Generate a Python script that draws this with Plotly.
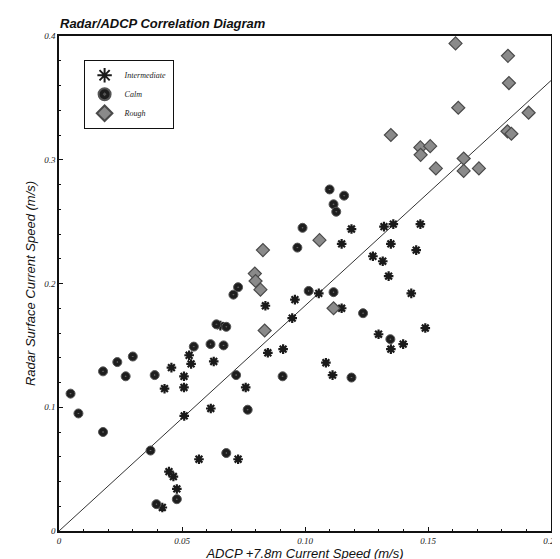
import plotly.graph_objects as go

# Data
calm_x = [0.0047, 0.0079, 0.0179, 0.0179, 0.0237, 0.0271, 0.030, 0.0372, 0.0389, 0.0396,
          0.0479, 0.0548, 0.0616, 0.064, 0.0669, 0.068, 0.068, 0.0709, 0.0728, 0.072,
          0.0767, 0.0909, 0.0969, 0.099, 0.110, 0.1159, 0.1116, 0.1127, 0.1015, 0.1116,
          0.1236, 0.1347, 0.1189]
calm_y = [0.111, 0.095, 0.129, 0.080, 0.1365, 0.125, 0.141, 0.065, 0.126, 0.0217,
          0.0257, 0.149, 0.151, 0.167, 0.150, 0.165, 0.063, 0.191, 0.197, 0.126,
          0.098, 0.125, 0.229, 0.245, 0.276, 0.271, 0.264, 0.258, 0.194, 0.193,
          0.176, 0.155, 0.124]

int_x = [0.0429, 0.0457, 0.0447, 0.0465, 0.0479, 0.042, 0.0508, 0.0508, 0.0529, 0.0537,
         0.0509, 0.0569, 0.0617, 0.0629, 0.0656, 0.0728, 0.0759, 0.0849, 0.0839, 0.0911,
         0.0948, 0.0959, 0.1056, 0.1149, 0.1189, 0.1149, 0.1276, 0.1316, 0.1321, 0.1359,
         0.1349, 0.1469, 0.1452, 0.134, 0.1432, 0.1489, 0.1299, 0.1349, 0.1399, 0.1085,
         0.1112]
int_y = [0.115, 0.132, 0.048, 0.044, 0.034, 0.019, 0.125, 0.116, 0.142, 0.135,
         0.093, 0.058, 0.099, 0.137, 0.166, 0.058, 0.116, 0.144, 0.182, 0.147,
         0.172, 0.187, 0.192, 0.180, 0.244, 0.232, 0.222, 0.218, 0.246, 0.248,
         0.232, 0.248, 0.227, 0.206, 0.192, 0.164, 0.159, 0.147, 0.151, 0.136,
         0.126]

rough_x = [0.0829, 0.0796, 0.0799, 0.0819, 0.0836, 0.1612, 0.1825, 0.1829, 0.1623, 0.1909,
           0.1823, 0.1839, 0.1349, 0.1469, 0.1509, 0.147, 0.1532, 0.1645, 0.1645, 0.1707,
           0.1059, 0.1116]
rough_y = [0.227, 0.208, 0.202, 0.195, 0.162, 0.394, 0.384, 0.362, 0.342, 0.338,
           0.323, 0.321, 0.320, 0.310, 0.311, 0.304, 0.293, 0.301, 0.291, 0.293,
           0.235, 0.180]

fit_x = [0.0, 0.2]
fit_y = [0.0, 0.364]

x_tickvals = [0, 0.05, 0.10, 0.15, 0.20]
x_ticktext = ["0", "0.05", "0.10", "0.15", "0.20"]
y_tickvals = [0, 0.1, 0.2, 0.3, 0.4]
y_ticktext = ["0", "0.1", "0.2", "0.3", "0.4"]

fig = go.Figure()

fig.add_trace(go.Scatter(x=fit_x, y=fit_y, mode="lines",
                         line=dict(color="#333333", width=1),
                         showlegend=False, hoverinfo="skip"))

fig.add_trace(go.Scatter(x=int_x, y=int_y, mode="markers", name="Intermediate",
                         marker=dict(symbol="asterisk-open", size=8, color="#1a1a1a",
                                     line=dict(color="#1a1a1a", width=2.2))))
fig.add_trace(go.Scatter(x=calm_x, y=calm_y, mode="markers", name="Calm",
                         marker=dict(symbol="circle-dot", size=9, color="#1e1e1e",
                                     line=dict(color="#555555", width=1))))
fig.add_trace(go.Scatter(x=rough_x, y=rough_y, mode="markers", name="Rough",
                         marker=dict(symbol="diamond", size=10, color="#8a8a8a",
                                     line=dict(color="#4a4a4a", width=1.2))))

tickfont = dict(family="Liberation Serif", size=9, color="#222", style="italic")
titlefont = dict(family="Liberation Sans", size=13, color="#111", style="italic")

fig.update_layout(
    width=560, height=559,
    margin=dict(l=51, r=9, t=28, b=33),
    paper_bgcolor="white", plot_bgcolor="white",
    title=dict(text="<b><i>Radar/ADCP Correlation Diagram</i></b>",
               x=52 / 560, xanchor="left", y=1 - 15 / 559, yanchor="middle",
               font=dict(family="Liberation Sans", size=13, color="#111")),
    legend=dict(x=0.05, y=0.952, xanchor="left", yanchor="top",
                bgcolor="white", bordercolor="#111", borderwidth=1,
                font=dict(family="Liberation Serif", size=8, color="#222", style="italic"),
                itemsizing="constant", tracegroupgap=0, itemwidth=30),
    xaxis=dict(range=[0, 0.2], tickvals=x_tickvals, ticktext=x_ticktext,
               tickfont=tickfont, showgrid=False, zeroline=False,
               showline=True, linecolor="#111", linewidth=1.5, mirror=True,
               ticks="inside", ticklen=4, tickcolor="#111",
               minor=dict(dtick=0.01, ticks="inside", ticklen=2, tickcolor="#111"),
               title=dict(text="ADCP +7.8m Current Speed (m/s)", font=titlefont, standoff=3)),
    yaxis=dict(range=[0, 0.4], tickvals=y_tickvals, ticktext=y_ticktext,
               tickfont=tickfont, showgrid=False, zeroline=False,
               showline=True, linecolor="#111", linewidth=1.5, mirror=True,
               ticks="inside", ticklen=4, tickcolor="#111",
               minor=dict(dtick=0.02, ticks="inside", ticklen=2, tickcolor="#111"),
               title=dict(text="Radar Surface Current Speed (m/s)", font=titlefont, standoff=6)),
)

fig.write_html("out.html")
